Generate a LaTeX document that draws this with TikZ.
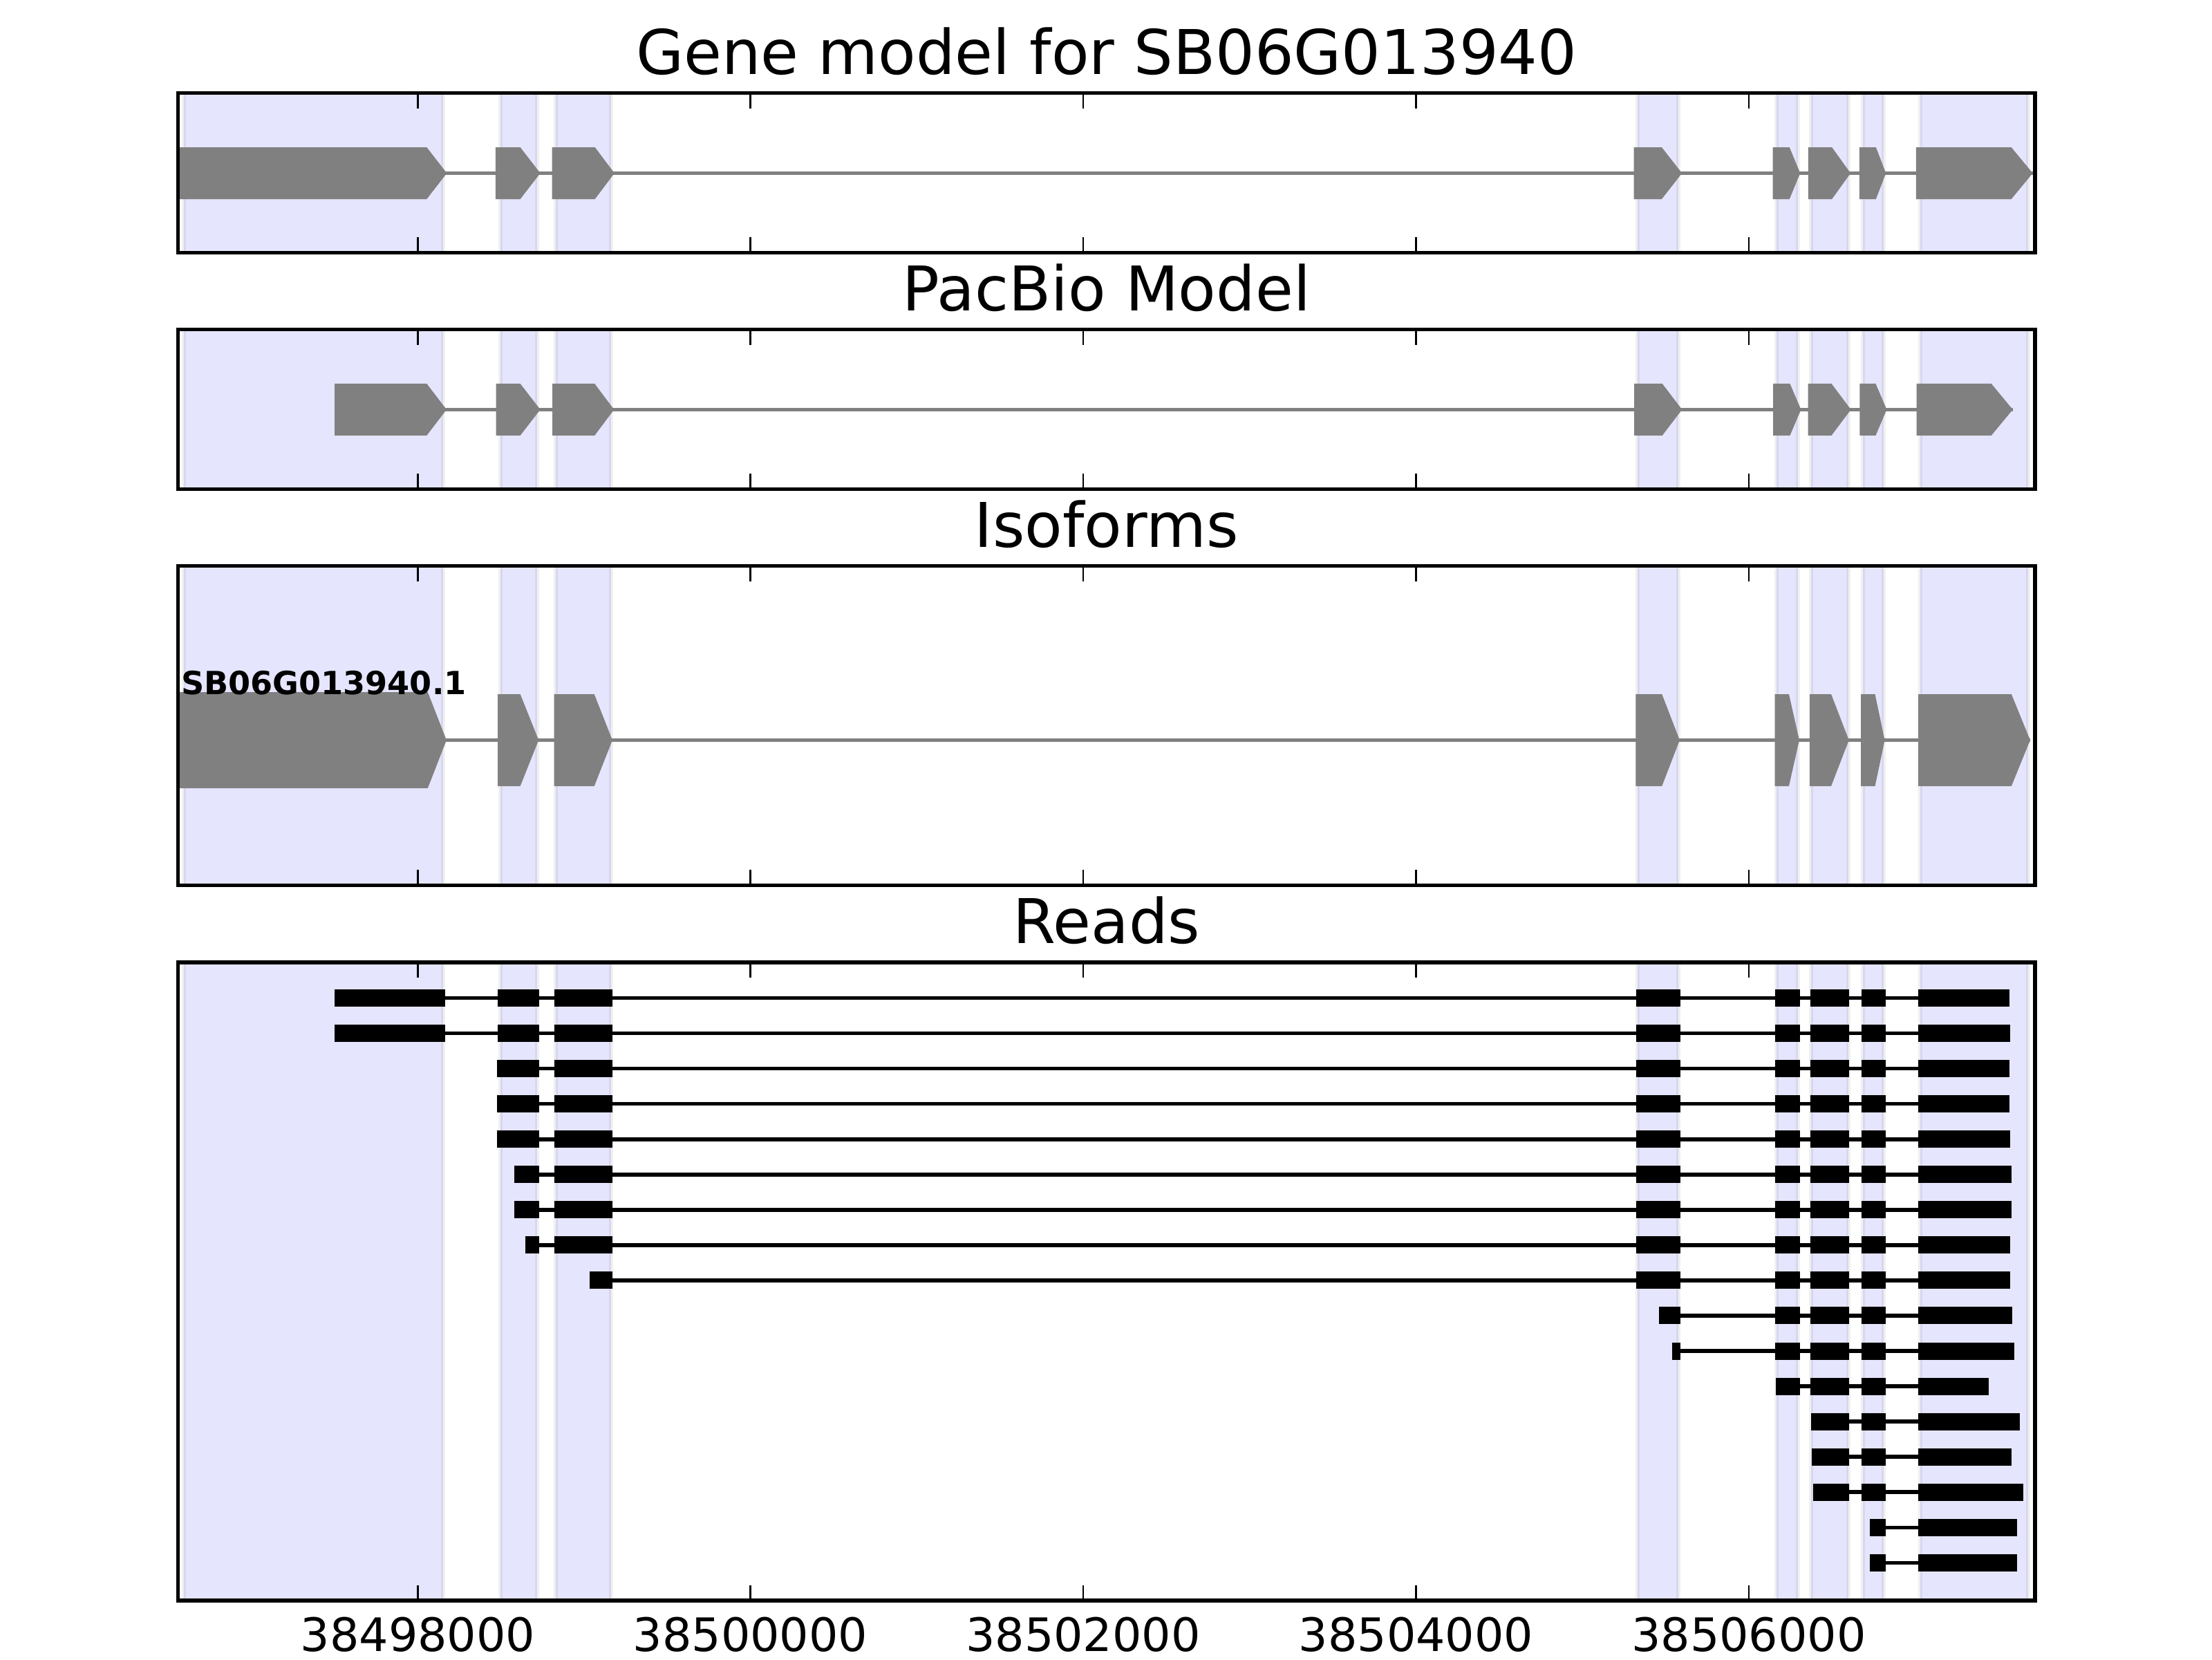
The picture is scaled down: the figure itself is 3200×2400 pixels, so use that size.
\documentclass[tikz,border=0pt]{standalone}
\usepackage{fontspec}
\setmainfont{DejaVu Sans}
\definecolor{bandfill}{RGB}{229,229,253}
\definecolor{genegray}{RGB}{128,128,128}
\tikzset{
  band/.style={fill=bandfill},
  bandedge/.style={draw=black, draw opacity=0.06, line width=1pt},
  frame/.style={draw=black, line width=1pt},
  tickmark/.style={draw=black, line width=0.5pt},
  intron/.style={draw=genegray, line width=1pt},
  gexon/.style={fill=genegray},
  readline/.style={draw=black, line width=1pt},
  readexon/.style={fill=black},
  paneltitle/.style={font=\fontsize{16.05}{18}\selectfont, anchor=base, inner sep=0pt},
  ticklabel/.style={font=\fontsize{12}{14}\selectfont, anchor=base, inner sep=0pt},
  isolabel/.style={font=\fontsize{8.3}{10}\selectfont\bfseries, anchor=base west, inner sep=0pt},
}
\newcommand{\gmexon}[5]{\fill[gexon] (#1,#4-#5) -- (#2,#4-#5) -- (#3,#4) -- (#2,#4+#5) -- (#1,#4+#5) -- cycle;}
\newcommand{\readrow}[4]{\draw[readline] (#2,#1) -- (#3,#1);
  \foreach \ra/\rb in {#4} {\fill[readexon] (\ra,#1-12.5) rectangle (\rb,#1+12.5);}}
\begin{document}
\begin{tikzpicture}[x=0.18pt,y=-0.18pt]
\useasboundingbox (0,0) rectangle (3200,2400);
\fill[white] (0,0) rectangle (3200,2400);

% shaded exon bands
\foreach \t/\b in {134.5/365.5, 476.5/707.5, 818.5/1280.5, 1392/2315} {
  \foreach \l/\r in {266/641, 724/777, 804/884, 2369/2428, 2570/2601, 2620/2674, 2695/2725, 2778/2934} {
    \fill[band] (\l,\t) rectangle (\r,\b);
    \draw[bandedge] (\l,\t) -- (\l,\b) (\r,\t) -- (\r,\b);
  }
}

% panel 1: gene model
\draw[intron] (260.2,250.5) -- (2940.6,250.5);
\foreach \a/\b/\c in {260.2/617.3/646.4, 716.8/752.6/781.6, 798.5/860.7/888.8, 2363.7/2403.9/2433.2,
  2564.6/2588.7/2604.2, 2615.7/2650.1/2677.1, 2689.7/2713.8/2728.2, 2771.8/2909.6/2940.6} {
  \gmexon{\a}{\b}{\c}{250.5}{37.5}
}

% panel 2: PacBio model
\draw[intron] (484,592.4) -- (2911.7,592.4);
\foreach \a/\b/\c in {484/617.3/646, 717.7/752.6/781.6, 799.1/860.2/888.3, 2364/2404.7/2433.3,
  2565.1/2589.4/2605.4, 2615.5/2649.5/2677.6, 2690.2/2713.4/2729.4, 2772.6/2880.7/2911.7} {
  \gmexon{\a}{\b}{\c}{592.4}{37.5}
}

% panel 3: isoforms
\draw[intron] (260.1,1070.5) -- (2936.9,1070.5);
\gmexon{260.1}{618.8}{645.9}{1070.5}{69.5}
\foreach \a/\b/\c in {720.1/752.6/779.2, 801.5/859.7/885.9, 2366.4/2404.2/2429.9,
  2567.6/2587.9/2602.9, 2618/2649/2674.7, 2692.1/2712.5/2726.5, 2775/2909.8/2936.9} {
  \gmexon{\a}{\b}{\c}{1070.5}{66.5}
}
\node[isolabel] (iso) at (261,1004) {SB06G013940.1};

% panel 4: reads
\readrow{1443.5}{484.2}{2907.3}{484.2/643.9, 720.4/779.6, 802/886.2, 2366.6/2431.4, 2567.5/2603.6, 2618.6/2675.4, 2692.6/2727.6, 2774.7/2907.3}
\readrow{1494.55}{484.2}{2908.4}{484.2/643.9, 720.4/779.6, 802/886.2, 2366.6/2431.4, 2567.5/2603.6, 2618.6/2675.4, 2692.6/2727.6, 2774.7/2908.4}
\readrow{1545.6}{719.4}{2907.3}{719.4/779.6, 802/886.2, 2366.6/2431.4, 2567.5/2603.6, 2618.6/2675.4, 2692.6/2727.6, 2774.7/2907.3}
\readrow{1596.65}{719.4}{2907.3}{719.4/779.6, 802/886.2, 2366.6/2431.4, 2567.5/2603.6, 2618.6/2675.4, 2692.6/2727.6, 2774.7/2907.3}
\readrow{1647.7}{719.4}{2908.4}{719.4/779.6, 802/886.2, 2366.6/2431.4, 2567.5/2603.6, 2618.6/2675.4, 2692.6/2727.6, 2774.7/2908.4}
\readrow{1698.75}{743.9}{2909.6}{743.9/779.6, 802/886.2, 2366.6/2431.4, 2567.5/2603.6, 2618.6/2675.4, 2692.6/2727.6, 2774.7/2909.6}
\readrow{1749.8}{743.9}{2909.6}{743.9/779.6, 802/886.2, 2366.6/2431.4, 2567.5/2603.6, 2618.6/2675.4, 2692.6/2727.6, 2774.7/2909.6}
\readrow{1800.85}{760.2}{2908.4}{760.2/779.6, 802/886.2, 2366.6/2431.4, 2567.5/2603.6, 2618.6/2675.4, 2692.6/2727.6, 2774.7/2908.4}
\readrow{1851.9}{853}{2908.4}{853/886.2, 2366.6/2431.4, 2567.5/2603.6, 2618.6/2675.4, 2692.6/2727.6, 2774.7/2908.4}
\readrow{1902.95}{2400.4}{2911.3}{2400.4/2431.4, 2567.5/2603.6, 2618.6/2675.4, 2692.6/2727.6, 2774.7/2911.3}
\readrow{1954.0}{2419.4}{2914.2}{2419.4/2431.4, 2567.5/2603.6, 2618.6/2675.4, 2692.6/2727.6, 2774.7/2914.2}
\readrow{2005.05}{2568.6}{2876.8}{2568.6/2603.6, 2618.6/2675.4, 2692.6/2727.6, 2774.7/2876.8}
\readrow{2056.1}{2620.3}{2922.2}{2620.3/2675.4, 2692.6/2727.6, 2774.7/2922.2}
\readrow{2107.15}{2621.4}{2910.2}{2621.4/2675.4, 2692.6/2727.6, 2774.7/2910.2}
\readrow{2158.2}{2622.6}{2927.4}{2622.6/2675.4, 2692.6/2727.6, 2774.7/2927.4}
\readrow{2209.25}{2704.7}{2918.2}{2704.7/2727.6, 2774.7/2918.2}
\readrow{2260.3}{2704.7}{2918.2}{2704.7/2727.6, 2774.7/2918.2}

% frames and ticks
\foreach \t/\b in {134.5/365.5, 476.5/707.5, 818.5/1280.5, 1392/2315} {
  \foreach \x in {604.5,1085.5,1567,2048.5,2530} {
    \draw[tickmark] (\x,\t) -- (\x,\t+22.2) (\x,\b) -- (\x,\b-22.2);
  }
  \draw[frame] (257.5,\t) rectangle (2944,\b);
}

% titles
\node[paneltitle] (title1) at (1600.75,107) {Gene model for SB06G013940};
\node[paneltitle] (title2) at (1600.75,449) {PacBio Model};
\node[paneltitle] (title3) at (1600.75,791) {Isoforms};
\node[paneltitle] (title4) at (1600.75,1364.5) {Reads};

% tick labels
\node[ticklabel] (lab1) at (604.5,2388) {38498000};
\node[ticklabel] (lab2) at (1085.5,2388) {38500000};
\node[ticklabel] (lab3) at (1567,2388) {38502000};
\node[ticklabel] (lab4) at (2048.5,2388) {38504000};
\node[ticklabel] (lab5) at (2530,2388) {38506000};
\end{tikzpicture}
\end{document}
